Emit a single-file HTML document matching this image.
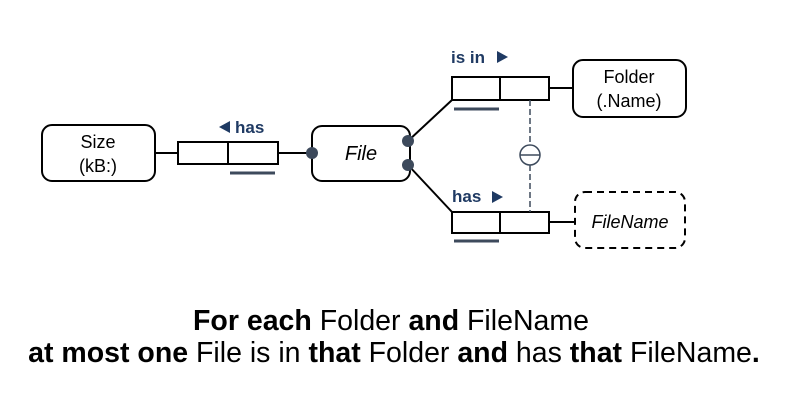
<!DOCTYPE html>
<html><head><meta charset="utf-8"><style>
html,body{margin:0;padding:0;background:#fff;}
svg{display:block;font-family:"Liberation Sans",Arial,sans-serif;}
</style></head><body>
<svg width="800" height="402" viewBox="0 0 800 402" xmlns="http://www.w3.org/2000/svg">
<g stroke="#000" stroke-width="2" fill="#fff">
  <line x1="155" y1="153" x2="178" y2="153"/>
  <line x1="278" y1="153" x2="312" y2="153"/>
  <line x1="408" y1="141" x2="452" y2="100"/>
  <line x1="408" y1="165" x2="452" y2="212"/>
  <line x1="549" y1="88" x2="573" y2="88"/>
  <line x1="549" y1="222" x2="575" y2="222"/>
  <rect x="42" y="125" width="113" height="56" rx="10"/>
  <rect x="312" y="126" width="98" height="55" rx="10"/>
  <rect x="573" y="60" width="113" height="57" rx="10"/>
  <rect x="575" y="192" width="110" height="56" rx="10" stroke-dasharray="7,5"/>
  <rect x="178" y="142" width="100" height="22"/>
  <line x1="228" y1="142" x2="228" y2="164"/>
  <rect x="452" y="77" width="97" height="23"/>
  <line x1="500" y1="77" x2="500" y2="100"/>
  <rect x="452" y="212" width="97" height="21"/>
  <line x1="500" y1="212" x2="500" y2="233"/>
</g>
<g stroke="#3d4a5c" stroke-width="3">
  <line x1="230" y1="173" x2="275" y2="173"/>
  <line x1="454" y1="109" x2="499" y2="109"/>
  <line x1="454" y1="241" x2="499" y2="241"/>
</g>
<g stroke="#3d4a5c" stroke-width="1.5" fill="#fff">
  <line x1="530" y1="100" x2="530" y2="145" stroke-dasharray="6,3"/>
  <line x1="530" y1="165" x2="530" y2="212" stroke-dasharray="6,3"/>
  <circle cx="530" cy="155" r="10"/>
  <line x1="520" y1="155" x2="540" y2="155"/>
</g>
<g fill="#3d4a5c">
  <circle cx="312" cy="153" r="6"/>
  <circle cx="408" cy="141" r="6"/>
  <circle cx="408" cy="165" r="6"/>
</g>
<g fill="#000" font-size="18" text-anchor="middle">
  <text x="98" y="148">Size</text>
  <text x="98" y="172">(kB:)</text>
  <text x="361" y="160" font-style="italic" font-size="20">File</text>
  <text x="629" y="83">Folder</text>
  <text x="629" y="107">(.Name)</text>
  <text x="630" y="228" font-style="italic">FileName</text>
</g>
<g fill="#1f3a63" font-size="17" font-weight="bold">
  <text x="451" y="63">is in</text>
  <polygon points="497,51 497,63 508,57"/>
  <text x="452" y="202">has</text>
  <polygon points="492,191 492,203 503,197"/>
  <text x="235" y="133">has</text>
  <polygon points="230,121 230,133 219,127"/>
</g>
<g fill="#000" font-size="28.5" text-anchor="middle">
  <text x="391" y="330"><tspan font-weight="bold">For each</tspan> Folder <tspan font-weight="bold">and</tspan> FileName</text>
  <text x="394" y="362"><tspan font-weight="bold">at most one</tspan> File is in <tspan font-weight="bold">that</tspan> Folder <tspan font-weight="bold">and</tspan> has <tspan font-weight="bold">that</tspan> FileName<tspan font-weight="bold">.</tspan></text>
</g>
</svg>
</body></html>
